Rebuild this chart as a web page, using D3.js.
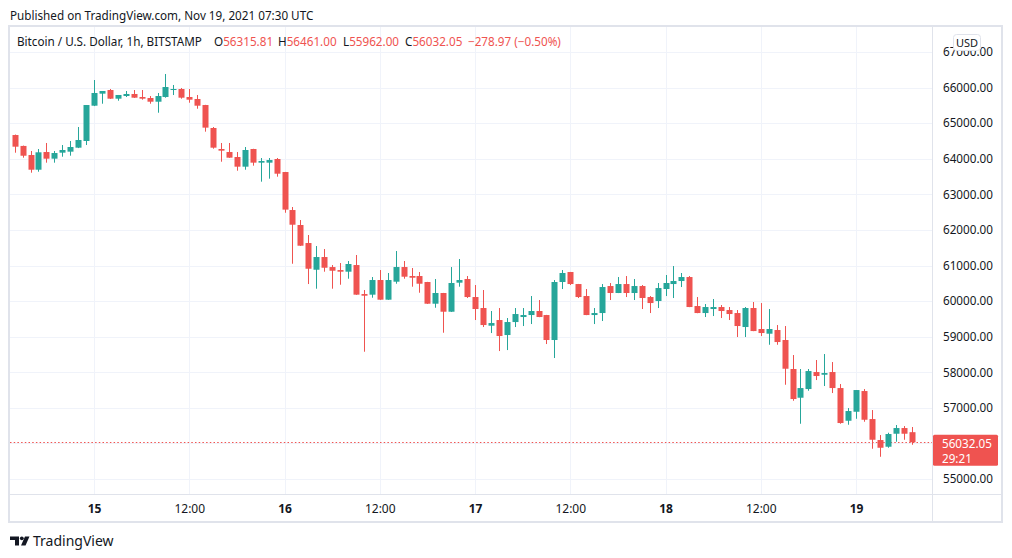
<!DOCTYPE html>
<html><head><meta charset="utf-8">
<script src="https://cdn.jsdelivr.net/npm/d3@7"></script>
<style>
html,body{margin:0;padding:0;background:#fff;}
svg{display:block;font-family:"Noto Sans",sans-serif;}
</style></head><body>
<svg id="c" width="1012" height="558"></svg>
<script>
// ---- data (hourly candles, BITSTAMP BTC/USD) ----
const startTime = "2021-11-14T14:00:00Z";
const opens = [64667,64360,64105,63692,64189,64002,64171,64199,64311,64499,
65491,65829,65932,65688,65763,65820,65735,65707,65603,65735,
65941,65960,65735,65679,65510,64864,64274,64189,64049,63777,
64274,63890,63890,63993,63627,62559,62138,61632,60881,61238,
60956,60872,60826,61013,60198,60180,60592,60039,60545,60957,
60704,60704,60536,59926,60227,59701,60517,60620,60114,59805,
59308,59468,59046,59411,59552,59608,59721,59608,58906,60536,
60817,60479,60142,59608,59664,60423,60227,60479,60227,60423,
60114,60002,60339,60479,60564,60676,59861,59664,59777,59833,
59749,59664,59271,59805,59215,59083,59187,58906,58091,57284,
57528,58006,57930,58006,57556,56637,56890,57472,56685,56095,
55907,56272,56432,56315.81];
const highs = [64680,64370,64218,64274,64443,64218,64386,64499,64892,65510,
66213,65904,65960,65792,65904,65932,65932,65763,65848,66382,
66073,65988,65960,65792,65515,64892,64443,64443,64189,64330,
64280,64021,64021,64021,63630,62644,62278,61857,61547,61463,
61013,61070,61126,61295,60311,60676,60873,60789,61407,61126,
60929,60817,60540,60620,60230,60957,61182,60704,60451,60311,
59721,59805,59524,59805,59805,60142,60030,59612,60592,60873,
60820,60482,60339,59805,60479,60508,60676,60704,60620,60451,
60142,60508,60733,60985,60789,60704,60114,59917,60058,59889,
59833,59749,59833,59974,59945,59777,59327,59299,58484,58091,
58091,58344,58512,58287,57669,56994,57500,57528,56938,56235,
56300,56517,56488,56461];
const lows = [64170,64030,63608,63636,63890,63890,64058,64086,64300,64386,
65480,65547,65680,65631,65735,65710,65660,65547,65294,65716,
65791,65688,65575,65406,64761,64283,63917,64025,63664,63692,
63805,63356,63440,63496,62483,61050,61550,60479,60348,60826,
60348,60460,60629,60175,58577,60095,60035,60035,60488,60629,
60404,60235,59920,59813,59111,59695,60404,60086,59468,59271,
59102,58596,58624,59271,59299,59355,59548,58793,58400,60339,
60451,60086,59605,59355,59440,60030,60225,60114,60030,59777,
59664,59805,60142,60086,60395,59830,59660,59552,59580,59524,
59468,58990,58990,59155,59018,58773,58773,57649,57199,56553,
57480,57781,57613,57416,56553,56525,56693,56609,55851,55625,
55878,56047,56103,55962];
const closes = [64339,64085,63692,64181,64002,64161,64246,64330,64527,65510,
65848,65904,65688,65792,65820,65716,65688,65603,65763,66016,
65960,65716,65660,65491,64874,64311,64227,64030,63777,64246,
63890,63936,63964,63580,62570,62146,61556,60909,61238,60937,
60853,60826,61042,60180,60151,60592,60039,60592,60957,60685,
60657,60488,59926,60227,59701,60508,60592,60114,59777,59327,
59383,59018,59411,59636,59608,59721,59552,58906,60536,60789,
60479,60114,59608,59664,60395,60227,60479,60227,60423,60086,
59945,60367,60508,60564,60676,59833,59664,59833,59833,59721,
59636,59299,59805,59158,59102,59215,58849,58099,57247,57556,
58034,57894,57978,57556,56573,56910,57500,56665,56103,55878,
56264,56432,56272,56032.05];

const priceTicks = [55000,56000,57000,58000,59000,60000,61000,62000,63000,64000,65000,66000,67000];
const timeTicks = ["2021-11-15T00:00:00Z","2021-11-15T12:00:00Z","2021-11-16T00:00:00Z","2021-11-16T12:00:00Z",
  "2021-11-17T00:00:00Z","2021-11-17T12:00:00Z","2021-11-18T00:00:00Z","2021-11-18T12:00:00Z","2021-11-19T00:00:00Z"];
const timeTickLabels = ["15","12:00","16","12:00","17","12:00","18","12:00","19"];

const headerText = "Published on TradingView.com, Nov 19, 2021 07:30 UTC";
const symbolTitle = "Bitcoin / U.S. Dollar, 1h, BITSTAMP";
const legendKeys = ["O","H","L","C"];
const legendValues = ["56315.81","56461.00","55962.00","56032.05"];
const changeText = "\u2212278.97 (\u22120.50%)";
const lastPrice = 56032.05;
const countdown = "29:21";

// ---- drawing ----
const UP = "#26a69a", DOWN = "#ef5350", TXT = "#131722", GRID = "#f0f3fa", BORDER = "#e0e3eb";
const L = 10, R = 932, T = 27, B = 494, AXB = 522, FR = 1002;
const svg = d3.select("#c");

const x = d3.scaleUtc()
  .domain([new Date("2021-11-15T00:00:00Z"), new Date("2021-11-19T00:00:00Z")])
  .range([94, 856]);
const y = d3.scaleLinear().domain([55000, 67000]).range([479, 52]);

const t0 = new Date(startTime);
const data = opens.map((o, i) => ({t: d3.utcHour.offset(t0, i), o, h: highs[i], l: lows[i], c: closes[i]}));

// header
svg.append("text").attr("x", 10).attr("y", 19.5).attr("fill", TXT)
  .attr("font-size", 11.7).text(headerText);

// frame
svg.append("rect").attr("x", 9).attr("y", 26).attr("width", FR - 9).attr("height", AXB - 26)
  .attr("fill", "#fff").attr("stroke", BORDER).attr("stroke-width", 2);

// grid
const tt = timeTicks.map(s => new Date(s));
svg.append("g").selectAll("line").data(priceTicks).join("line")
  .attr("x1", L).attr("x2", R)
  .attr("y1", d => Math.round(y(d)) + 0.5).attr("y2", d => Math.round(y(d)) + 0.5)
  .attr("stroke", GRID);
svg.append("g").selectAll("line").data(tt).join("line")
  .attr("x1", d => Math.round(x(d)) + 0.5).attr("x2", d => Math.round(x(d)) + 0.5)
  .attr("y1", T).attr("y2", B)
  .attr("stroke", GRID);

// axis separators
svg.append("line").attr("x1", L).attr("x2", FR).attr("y1", B + 0.5).attr("y2", B + 0.5).attr("stroke", BORDER);
svg.append("line").attr("x1", R + 0.5).attr("x2", R + 0.5).attr("y1", T).attr("y2", AXB).attr("stroke", BORDER);

// candles
svg.append("clipPath").attr("id", "plotclip").append("rect")
  .attr("x", L).attr("y", T).attr("width", R - L).attr("height", B - T);
const cg = svg.append("g").attr("clip-path", "url(#plotclip)");

// last price dotted line
cg.append("line").attr("x1", L).attr("x2", R)
  .attr("y1", Math.round(y(lastPrice)) + 0.5).attr("y2", Math.round(y(lastPrice)) + 0.5)
  .attr("stroke", DOWN).attr("stroke-dasharray", "1.5,2.2").attr("stroke-width", 1.2);

const cs = cg.selectAll("g.c").data(data).join("g").attr("class", "c");
cs.append("rect")
  .attr("x", d => Math.round(x(d.t)))
  .attr("width", 1)
  .attr("y", d => y(d.h))
  .attr("height", d => Math.max(1, y(d.l) - y(d.h)))
  .attr("fill", d => d.c >= d.o ? UP : DOWN);
cs.append("rect")
  .attr("x", d => Math.round(x(d.t)) - 2.5)
  .attr("width", 6)
  .attr("y", d => y(Math.max(d.o, d.c)))
  .attr("height", d => Math.max(1, Math.abs(y(d.o) - y(d.c))))
  .attr("fill", d => d.c >= d.o ? UP : DOWN);

// legend
const lg = svg.append("g").attr("font-size", 11.7);
lg.append("text").attr("x", 17).attr("y", 46).attr("fill", TXT).text(symbolTitle);
const legX = [214, 278, 343, 405];
legendKeys.forEach((k, i) => {
  const t = lg.append("text").attr("x", legX[i]).attr("y", 46).attr("fill", TXT);
  t.append("tspan").text(k);
  t.append("tspan").attr("fill", DOWN).text(legendValues[i]);
});
lg.append("text").attr("x", 468).attr("y", 46).attr("fill", DOWN).text(changeText);

// right axis (the label hidden behind the last-price tag is skipped)
const ya = svg.append("g").attr("transform", `translate(${R},0)`)
  .call(d3.axisRight(y).tickValues(priceTicks.filter(p => Math.abs(y(p) - y(lastPrice)) > 18))
    .tickFormat(d => d.toFixed(2)).tickSize(0).tickPadding(11));
ya.select(".domain").remove();
ya.selectAll("text").attr("fill", TXT).attr("font-size", 11.7).attr("font-family", "Noto Sans");

// bottom axis
const xa = svg.append("g").attr("transform", `translate(0,${B})`)
  .call(d3.axisBottom(x).tickValues(tt).tickFormat((d, i) => timeTickLabels[i]).tickSize(0).tickPadding(10.5));
xa.select(".domain").remove();
xa.selectAll("text").attr("fill", TXT).attr("font-size", 12).attr("font-family", "Noto Sans")
  .attr("font-weight", (d, i) => timeTickLabels[i].includes(":") ? 400 : 700);

// USD badge
svg.append("rect").attr("x", 953.5).attr("y", 34.5).attr("width", 27).attr("height", 16).attr("rx", 3)
  .attr("fill", "#fff").attr("stroke", BORDER);
svg.append("text").attr("x", 967).attr("y", 46.5).attr("text-anchor", "middle")
  .attr("font-size", 11).attr("fill", TXT).text("USD");

// last price label
const ly = y(lastPrice);
svg.append("rect").attr("x", R + 1).attr("y", ly - 7.5).attr("width", 65).attr("height", 31)
  .attr("rx", 1.5).attr("fill", DOWN);
svg.append("text").attr("x", 942).attr("y", ly + 6).attr("fill", "#fff").attr("font-size", 11.7)
  .text(lastPrice.toFixed(2));
svg.append("text").attr("x", 942).attr("y", ly + 20.5).attr("fill", "#fff").attr("font-size", 11.7)
  .text(countdown);

// footer logo + text
const logo = svg.append("g").attr("fill", TXT);
logo.append("path").attr("d", "M10,536.5 H19 V545.5 H15 V540 H10 Z");
logo.append("circle").attr("cx", 21.8).attr("cy", 538.3).attr("r", 1.9);
logo.append("path").attr("d", "M25,536.5 H29.5 L25.5,545.5 H21 Z");
svg.append("text").attr("x", 33).attr("y", 546).attr("font-size", 14).attr("fill", TXT).text("TradingView");
</script>
</body></html>
